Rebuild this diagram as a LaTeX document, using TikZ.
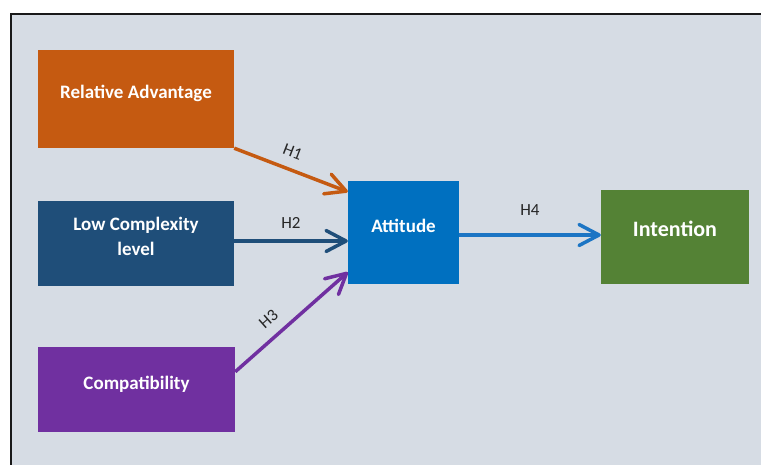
\documentclass[tikz,border=0pt]{standalone}
\usepackage{fontspec}
\setmainfont{Carlito}
\usetikzlibrary{arrows.meta,calc}

\definecolor{bgcol}{HTML}{D6DCE4}
\definecolor{advcol}{HTML}{C55A11}
\definecolor{lowcol}{HTML}{1F4E79}
\definecolor{compcol}{HTML}{7030A0}
\definecolor{attcol}{HTML}{0070C0}
\definecolor{intcol}{HTML}{548235}
\definecolor{h4col}{HTML}{1C75C4}

\begin{document}
\begin{tikzpicture}[x=1pt,y=-1pt,
		box/.style={rectangle, inner sep=0pt, text=white, align=center,
			font=\bfseries\fontsize{19}{25}\selectfont},
		hyp/.style={line width=3.5pt, -{Straight Barb[length=20pt,width=21pt,round]}},
		hlabel/.style={font=\fontsize{17}{20}\selectfont, text=black!85}]
			\useasboundingbox (0,0) rectangle (761,465);
			\fill[bgcol] (11,14) rectangle (761,465);
			\draw[line width=1.6pt, black!90] (11,465) -- (11,14) -- (761,14);
			\coordinate (adv pos) at (136,99);
			\coordinate (low pos) at (136,243.5);
			\coordinate (comp pos) at (136.5,389.5);
			\coordinate (att pos) at (403.5,232.5);
			\coordinate (int pos) at (675,237);
			\node (adv) at (adv pos) [box, fill=advcol, minimum width=196pt, minimum height=98pt, text depth=14pt] {Relative Advantage};
			\node (low) at (low pos) [box, fill=lowcol, minimum width=196pt, minimum height=85pt, text depth=14pt] {Low Complexity\\level};
			\node (comp) at (comp pos) [box, fill=compcol, minimum width=197pt, minimum height=85pt, text depth=14pt] {Compatibility};
			\node (att) at (att pos) [box, fill=attcol, minimum width=111pt, minimum height=103pt, text depth=14pt] {Attitude};
			\node (int) at (int pos) [box, fill=intcol, minimum width=148pt, minimum height=94pt, text depth=16pt, font=\bfseries\fontsize{22}{26}\selectfont] {Intention};
			\draw[hyp, advcol] (adv.south east) -- node [hlabel, sloped, above=7pt, pos=.46] {H1} ($(att.north west)+(0,11)$);
			\draw[hyp, lowcol] ($(low.east)+(0,-2.5)$) -- node [hlabel, above=7pt] {H2} ($(low.east -| att.west)+(0,-2.5)$);
			\draw[hyp, compcol] ($(comp.north east)+(0,25)$) -- node [hlabel, sloped, above=7pt, pos=.4] {H3} ($(att.south west)+(0,-12)$);
			\draw[hyp, h4col] ($(att.east)+(0,2.5)$) -- node [hlabel, above=14pt] {H4} ($(att.east -| int.west)+(0,2.5)$);
		\end{tikzpicture}
\end{document}
